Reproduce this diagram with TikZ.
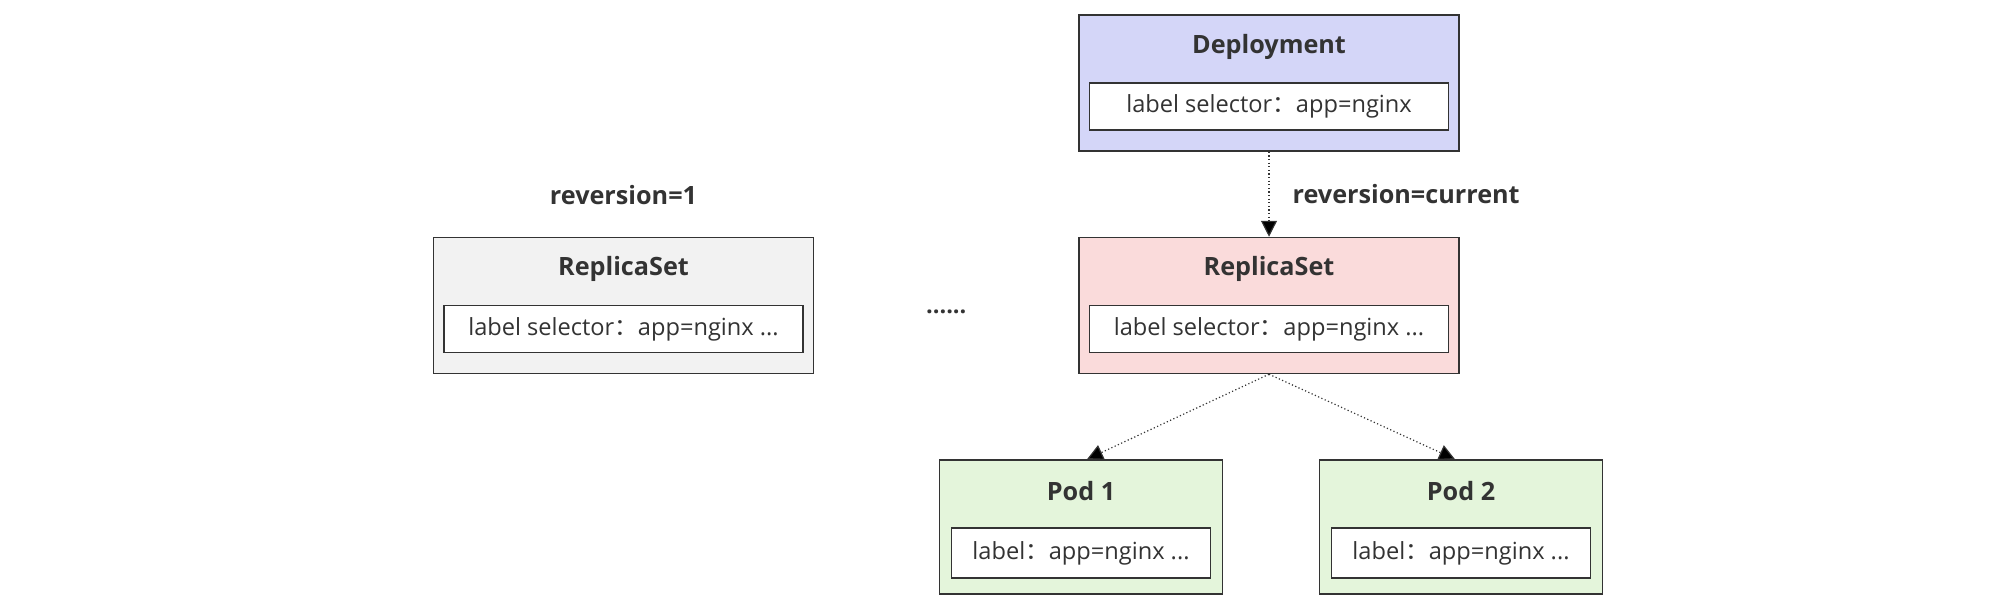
\documentclass[tikz,border=0pt]{standalone}
\usepackage{fontspec}
\setmainfont{Open Sans}
\newfontfamily\cjk{Noto Sans CJK SC}
\usetikzlibrary{positioning,calc,arrows.meta}
\definecolor{linec}{HTML}{333333}
\definecolor{textc}{HTML}{333333}
\definecolor{depfill}{HTML}{D4D6F8}
\definecolor{rsfill}{HTML}{FADBDB}
\definecolor{oldfill}{HTML}{F2F2F2}
\definecolor{podfill}{HTML}{E4F5DB}
\newcommand{\fwcolon}{{\cjk ：}}

\begin{document}
\begin{tikzpicture}[x=1pt,y=1pt,
    box/.style={draw=linec,line width=0.75pt,minimum width=190pt,minimum height=68pt,inner sep=0pt},
    podbox/.style={box,minimum width=141.5pt,minimum height=67pt,fill=podfill},
    field/.style={draw=linec,line width=0.75pt,fill=white,minimum width=179.5pt,minimum height=23.5pt,
        inner sep=0pt,text=textc,font=\fontsize{11.8}{14}\selectfont},
    podfield/.style={field,minimum width=129.5pt,minimum height=25pt},
    heading/.style={inner sep=0pt,text=textc,font=\fontsize{12.6}{16}\selectfont\bfseries},
    link/.style={draw=linec,line width=0.6pt,dash pattern=on 0.6pt off 1.2pt},
    tip/.style={-{Triangle[length=8pt,width=8pt]}}]
        \useasboundingbox (0,0) rectangle (1001,-305);

        % deployment
        \node[box,fill=depfill] (dep) at (634.5,-41.5) {};
        \node[heading] (deptitle) at ([yshift=-16.5pt]dep.north) {Deployment};
        \node[field,above=10.5pt of dep.south] (depsel) {label selector\fwcolon app=nginx};

        % replica sets
        \node[box,fill=rsfill,below=42.5pt of dep] (rs) {};
        \node[heading] (rstitle) at ([yshift=-16pt]rs.north) {ReplicaSet};
        \node[field,above=10.5pt of rs.south] (rssel) {label selector\fwcolon app=nginx ...};

        \node[box,fill=oldfill,left=132pt of rs] (oldrs) {};
        \node[heading] (oldtitle) at ([yshift=-16pt]oldrs.north) {ReplicaSet};
        \node[field,above=10.5pt of oldrs.south] (oldsel) {label selector\fwcolon app=nginx ...};
        \node[heading] (oldrev) at ([yshift=21pt]oldrs.north) {reversion=1};
        \node[text=textc,font=\fontsize{11.8}{14}\selectfont\bfseries] (more)
            at ([yshift=-3pt]$(oldrs.east)!0.5!(rs.west)$) {......};

        % pods
        \node[podbox,anchor=north] (pod1) at ([xshift=-94pt,yshift=-42.5pt]rs.south) {};
        \node[heading] (pod1title) at ([yshift=-16pt]pod1.north) {Pod 1};
        \node[podfield,above=8pt of pod1.south] (pod1sel) {label\fwcolon app=nginx ...};
        \node[podbox,anchor=north] (pod2) at ([xshift=96pt,yshift=-42.5pt]rs.south) {};
        \node[heading] (pod2title) at ([yshift=-16pt]pod2.north) {Pod 2};
        \node[podfield,above=8pt of pod2.south] (pod2sel) {label\fwcolon app=nginx ...};

        \path[link]
            (dep)
                edge[tip] node[heading,right=11.5pt] {reversion=current} (rs)
            (rs.south)
                edge[tip] ([xshift=3pt]pod1.north)
                edge[tip] ([xshift=-3pt]pod2.north);
    \end{tikzpicture}
\end{document}
